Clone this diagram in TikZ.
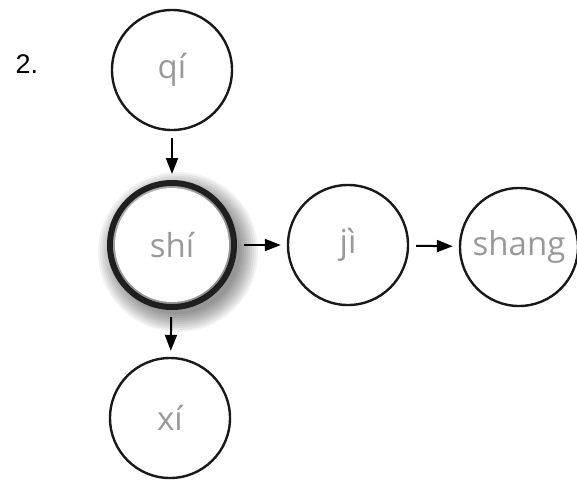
\documentclass[tikz,border=0pt]{standalone}
\usepackage{fontspec}
\setmainfont{Liberation Sans}
\newfontfamily\labfont{Open Sans}
\usetikzlibrary{arrows.meta}
\begin{document}
\begin{tikzpicture}[x=1pt,y=-1pt,
  syl/.style={circle,draw=black!90,line width=2.4pt,minimum size=120pt,inner sep=0pt,
    font=\labfont\fontsize{33}{33}\selectfont,text=black!40},
  arr/.style={line width=2pt,-{Triangle[length=16pt,width=12pt]},shorten <=7pt,shorten >=6pt}]
\useasboundingbox (0,0) rectangle (577,480);
% shadow of the central node
\foreach \r in {80,78,...,62}
  \fill[black,opacity=0.05] (178,252) circle (\r);
\fill[white] (172,245) circle (57);
\node[syl] (qi) at (172,70) {qí};
\node[syl,line width=6pt,draw=black!88,minimum size=124pt] (shi) at (172,245) {shí};
\node[syl] (ji) at (348,245) {jì};
\node[syl,minimum size=118pt] (shang) at (519,247) {shang};
\node[syl] (xi) at (170,418) {xí};
\node[font=\fontsize{27}{27}\selectfont,anchor=base west] (num) at (12,73) {2.};
\draw[arr] (qi) -- (shi);
\draw[arr] (shi) -- (ji);
\draw[arr] (ji) -- (shang);
\draw[arr] (shi) -- (xi);
\end{tikzpicture}
\end{document}
